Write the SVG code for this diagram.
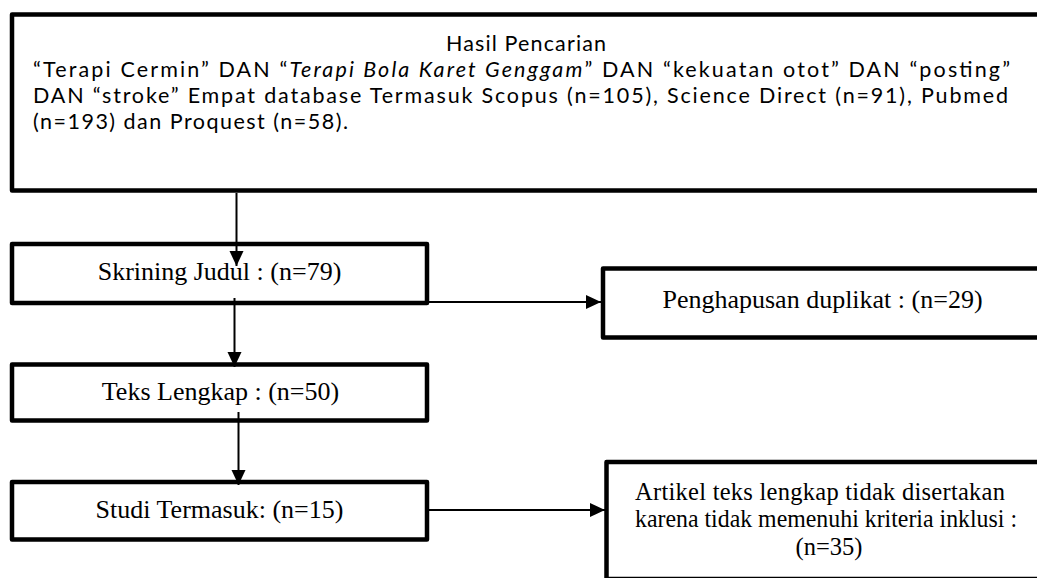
<svg xmlns="http://www.w3.org/2000/svg" width="1037" height="578" viewBox="0 0 1037 578">
  <style>
    .box { fill: #ffffff; stroke: #000000; stroke-width: 4.5; stroke-linejoin: round; }
    .cal { font-family: Lato, "Open Sans", "Liberation Sans", sans-serif; font-size: 21.5px; fill: #000000; }
    .tnr { font-family: "Liberation Serif", "Times New Roman", serif; font-size: 26px; fill: #000000; }
    .tnr2 { font-family: "Liberation Serif", "Times New Roman", serif; font-size: 24.5px; fill: #000000; }
    .conn { fill: none; stroke: #000000; stroke-width: 2; }
  </style>
  <defs>
    <marker id="arrow" markerUnits="userSpaceOnUse" markerWidth="16" markerHeight="15" refX="15" refY="7" orient="auto" viewBox="0 0 16 15">
      <path d="M0,0 L15,7 L0,14 Z" fill="#000000"/>
    </marker>
  </defs>
  <rect width="1037" height="578" fill="#ffffff"/>

  <g id="node-hasil">
    <rect class="box" x="12" y="14.5" width="1040" height="176"/>
    <text class="cal" x="526" y="51" text-anchor="middle" textLength="160" lengthAdjust="spacing">Hasil Pencarian</text>
    <text class="cal" x="33" y="77" textLength="977" lengthAdjust="spacing">“Terapi Cermin” DAN “<tspan font-style="italic">Terapi Bola Karet Genggam</tspan>” DAN “kekuatan otot” DAN “posting”</text>
    <text class="cal" x="33" y="103" textLength="975" lengthAdjust="spacing">DAN “stroke” Empat database Termasuk Scopus (n=105), Science Direct (n=91), Pubmed</text>
    <text class="cal" x="33" y="129" textLength="315" lengthAdjust="spacing">(n=193) dan Proquest (n=58).</text>
  </g>

  <g id="node-skrining">
    <rect class="box" x="12" y="244" width="415" height="59"/>
    <text class="tnr" x="219.5" y="280" text-anchor="middle">Skrining Judul : (n=79)</text>
  </g>

  <g id="node-penghapusan">
    <rect class="box" x="603" y="268.5" width="450" height="69"/>
    <text class="tnr" x="822.5" y="308" text-anchor="middle">Penghapusan duplikat : (n=29)</text>
  </g>

  <g id="node-teks">
    <rect class="box" x="12" y="364.5" width="415" height="56"/>
    <text class="tnr" x="220.5" y="400" text-anchor="middle">Teks Lengkap : (n=50)</text>
  </g>

  <g id="node-studi">
    <rect class="box" x="12" y="482" width="415" height="57.5"/>
    <text class="tnr" x="219.5" y="518" text-anchor="middle">Studi Termasuk: (n=15)</text>
  </g>

  <g id="node-artikel">
    <rect class="box" x="606.5" y="462" width="450" height="117"/>
    <text class="tnr2" x="635" y="500" textLength="370" lengthAdjust="spacing">Artikel teks lengkap tidak disertakan</text>
    <text class="tnr2" x="635" y="527" textLength="382" lengthAdjust="spacingAndGlyphs">karena tidak memenuhi kriteria inklusi :</text>
    <text class="tnr2" x="829" y="555" text-anchor="middle">(n=35)</text>
  </g>

  <g id="connectors">
    <path class="conn" d="M236.5,193 V266" marker-end="url(#arrow)"/>
    <path class="conn" d="M234.5,298 V367" marker-end="url(#arrow)"/>
    <path class="conn" d="M238.5,412 V485" marker-end="url(#arrow)"/>
    <path class="conn" d="M429,302 H601" marker-end="url(#arrow)"/>
    <path class="conn" d="M429,510 H605" marker-end="url(#arrow)"/>
  </g>
</svg>
